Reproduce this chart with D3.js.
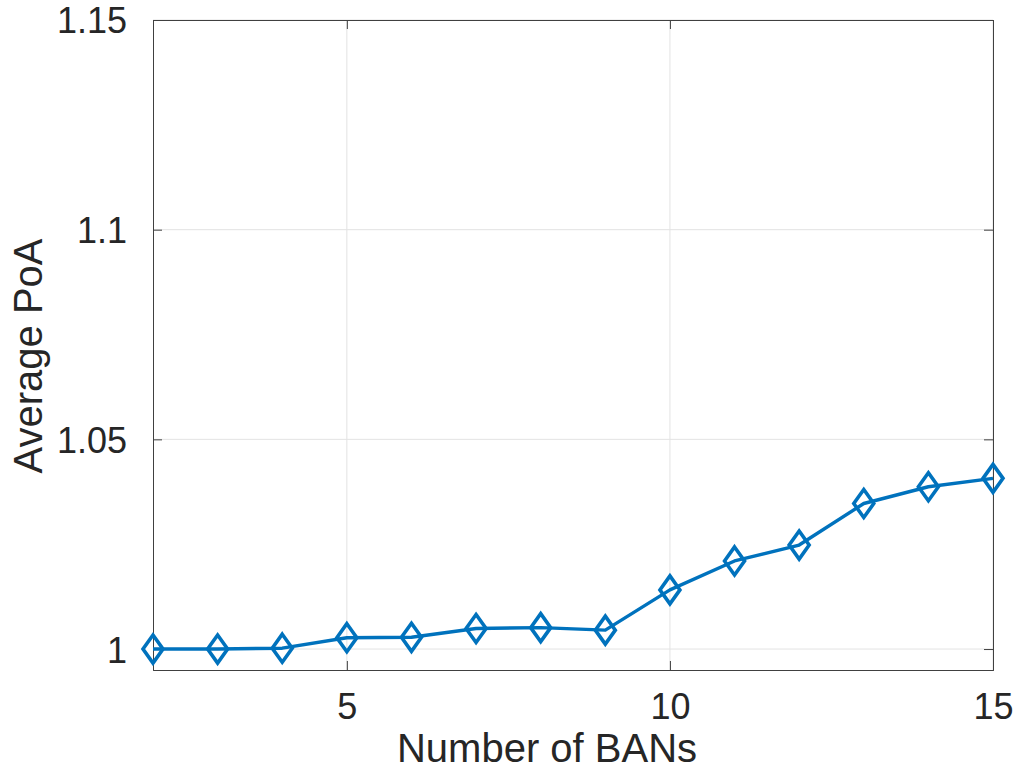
<!DOCTYPE html>
<html>
<head>
<meta charset="utf-8">
<script src="https://cdn.jsdelivr.net/npm/d3@7/dist/d3.min.js"></script>
<style>
  html, body { margin: 0; padding: 0; background: #fff; }
  svg { display: block; }
</style>
</head>
<body>
<script>
// Average price of anarchy versus number of BANs
const banCounts = [2, 3, 4, 5, 6, 7, 8, 9, 10, 11, 12, 13, 14, 15];
const avgPoA = [1.0, 1.0, 1.0002, 1.0027, 1.0028, 1.0049, 1.0051, 1.0045,
                1.0141, 1.0210, 1.0248, 1.0347, 1.0387, 1.0407];
const xTicks = [5, 10, 15];
const yTicks = [1, 1.05, 1.1, 1.15];
const yTickLabels = ["1", "1.05", "1.1", "1.15"];

const W = 1018, H = 779;
const m = { left: 153, right: 25, top: 20, bottom: 109 };
const iw = W - m.left - m.right, ih = H - m.top - m.bottom;
const font = "'Liberation Sans', Arial, Helvetica, sans-serif";
const axisColor = "#404040";
const lineColor = "#0072BD";

const svg = d3.select("body").append("svg").attr("width", W).attr("height", H);
const g = svg.append("g").attr("transform", `translate(${m.left},${m.top})`);

const x = d3.scaleLinear().domain([2, 15]).range([0, iw]);
const y = d3.scaleLinear().domain([0.995, 1.15]).range([ih, 0]);

// grid
g.append("g").selectAll("line").data(xTicks).join("line")
  .attr("x1", d => x(d)).attr("x2", d => x(d)).attr("y1", 0).attr("y2", ih)
  .attr("stroke", "#e3e3e3").attr("stroke-width", 1);
g.append("g").selectAll("line").data(yTicks).join("line")
  .attr("x1", 0).attr("x2", iw).attr("y1", d => y(d)).attr("y2", d => y(d))
  .attr("stroke", "#e3e3e3").attr("stroke-width", 1);

// axes with inward ticks, mirrored on top/right
const tickLen = 9;
const xAxis = d3.axisBottom(x).tickValues(xTicks).tickSize(-tickLen).tickPadding(tickLen + 14).tickFormat(d3.format("d"));
const yAxis = d3.axisLeft(y).tickValues(yTicks).tickSize(-tickLen).tickPadding(tickLen + 17)
  .tickFormat((d, i) => yTickLabels[i]);

const gx = g.append("g").attr("transform", `translate(0,${ih})`).call(xAxis);
const gy = g.append("g").call(yAxis);
const gxt = g.append("g").call(d3.axisTop(x).tickValues(xTicks).tickSize(-tickLen).tickFormat(""));
const gyr = g.append("g").attr("transform", `translate(${iw},0)`)
  .call(d3.axisRight(y).tickValues(yTicks).tickSize(-tickLen).tickFormat(""));

[gx, gy, gxt, gyr].forEach(a => {
  a.select(".domain").attr("stroke", axisColor).attr("stroke-width", 1);
  a.selectAll(".tick line").attr("stroke", axisColor).attr("stroke-width", 1);
  a.selectAll(".tick text").attr("fill", "#262626").attr("font-family", font).attr("font-size", 36);
});
gx.selectAll(".tick text").attr("dy", "0.71em");
gy.selectAll(".tick text").attr("dy", "0.36em");

// line and diamond markers
const line = d3.line().x((d, i) => x(banCounts[i])).y(d => y(d));
g.append("path").datum(avgPoA).attr("d", line)
  .attr("fill", "none").attr("stroke", lineColor).attr("stroke-width", 3.4)
  .attr("stroke-linejoin", "round");

const hw = 10, hh = 14;
g.append("g").selectAll("path").data(avgPoA).join("path")
  .attr("transform", (d, i) => `translate(${x(banCounts[i])},${y(d)})`)
  .attr("d", `M0,${-hh}L${hw},0L0,${hh}L${-hw},0Z`)
  .attr("fill", "none").attr("stroke", lineColor).attr("stroke-width", 3.6);

// axis titles
svg.append("text").attr("x", 547).attr("y", 762)
  .attr("text-anchor", "middle").attr("font-family", font).attr("font-size", 40)
  .attr("fill", "#262626").text("Number of BANs");
svg.append("text").attr("transform", "translate(42,356) rotate(-90)")
  .attr("text-anchor", "middle").attr("font-family", font).attr("font-size", 40)
  .attr("fill", "#262626").text("Average PoA");
</script>
</body>
</html>
